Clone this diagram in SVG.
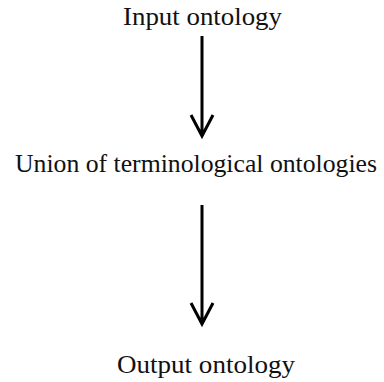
<svg xmlns="http://www.w3.org/2000/svg" width="384" height="382" viewBox="0 0 384 382">
<style>
.t{font-family:"Liberation Serif","DejaVu Serif",serif;font-size:25px;fill:#111;text-anchor:middle}
.c{stroke:#000;stroke-width:3;fill:none;stroke-linecap:butt}
</style>
<rect width="384" height="382" fill="#fff"/>
<g id="n1"><text class="t" x="202.5" y="25" textLength="159" lengthAdjust="spacingAndGlyphs">Input ontology</text></g>
<g id="n2"><text class="t" x="196" y="172" textLength="362" lengthAdjust="spacingAndGlyphs">Union of terminological ontologies</text></g>
<g id="n3"><text class="t" x="206" y="373" textLength="178" lengthAdjust="spacingAndGlyphs">Output ontology</text></g>
<g id="connectors">
<path class="c" d="M202 36V136M191 115L202 136L213 115"/>
<path class="c" d="M202 205V324M191 303L202 324L213 303"/>
</g>
</svg>
